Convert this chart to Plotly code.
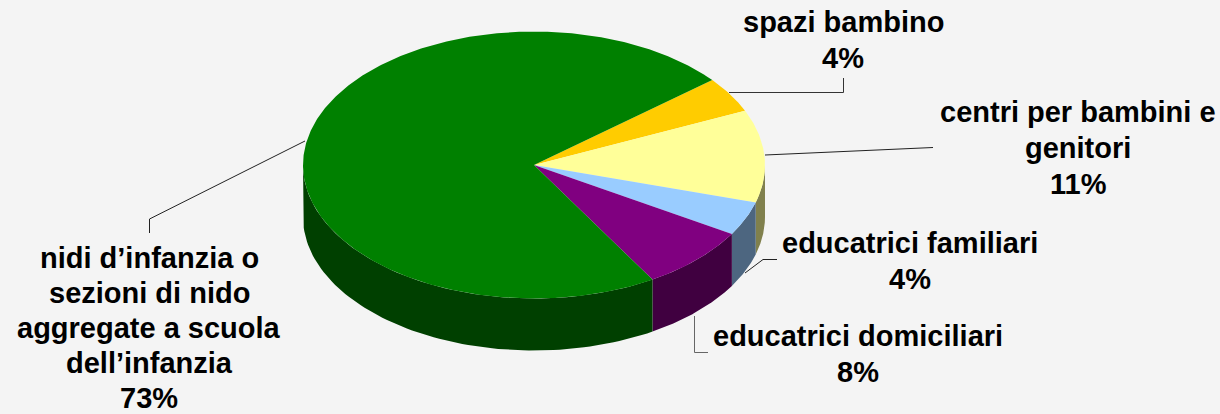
import numpy as np
import plotly.graph_objects as go

# Data, clockwise from the pie's start angle (labels show them rounded)
categories = ["spazi bambino", "centri per bambini e genitori", "educatrici familiari",
              "educatrici domiciliari", "nidi d’infanzia o sezioni di nido aggregate a scuola dell’infanzia"]
shares = [4.3, 11.2, 4.1, 7.8, 72.6]
label_lines = [["spazi bambino"], ["centri per bambini e", "genitori"], ["educatrici familiari"],
               ["educatrici domiciliari"], ["nidi d’infanzia o", "sezioni di nido", "aggregate a scuola", "dell’infanzia"]]

top_colors = ["#FFCC00", "#FFFF99", "#99CCFF", "#800080", "#008000"]
side_colors = ["#806600", "#80804D", "#4D6680", "#400040", "#004000"]

# Layout
CX, CY, RX, RY, DEPTH = 534, 165, 231, 133.5, 52
START = 39.5
FONT = "Liberation Sans, Arial, sans-serif"
FS = 29
label_pos = [(843, 22, 36), (1078, 112, 36), (910, 243, 36), (858, 336, 36), (149, 258, 35)]
leaders = [
    [(729, 92.5), (843.5, 92.5), (843.5, 78)],
    [(765, 155), (918, 147.5), (933, 147.5)],
    [(745, 273), (763, 259.5), (777, 259.5)],
    [(694.5, 316), (694.5, 352.5), (708, 352.5)],
    [(305, 141), (149.5, 219), (149.5, 233)],
]
leader_colors = ["#333333", "#222222", "#222222", "#666666", "#222222"]


def px(t):
    return CX + RX * np.cos(np.radians(t))


def py(t):
    return CY - RY * np.sin(np.radians(t))


fig = go.Figure()
edges = START - np.cumsum([0] + [s * 3.6 for s in shares])

# Side walls: only the front half of the rim (0 to -180 degrees)
for i, (a, b) in enumerate(zip(edges[:-1], edges[1:])):
    hi, lo = min(a, 0), max(b, -180)
    if hi <= lo:
        continue
    t = np.linspace(hi, lo, 80)
    xs = np.r_[px(t), px(t[::-1])]
    ys = np.r_[py(t), py(t[::-1]) + DEPTH]
    fig.add_trace(go.Scatter(x=xs, y=ys, mode="lines", fill="toself", fillcolor=side_colors[i],
                             line=dict(width=0), hoverinfo="skip", showlegend=False))

# Top faces
for i, (a, b) in enumerate(zip(edges[:-1], edges[1:])):
    t = np.linspace(a, b, max(int(a - b) * 2, 30))
    xs = np.r_[CX, px(t), CX]
    ys = np.r_[CY, py(t), CY]
    fig.add_trace(go.Scatter(x=xs, y=ys, mode="lines", fill="toself", fillcolor=top_colors[i],
                             line=dict(width=0), hoverinfo="text", text=categories[i], showlegend=False))

# Leader lines
for pts, c in zip(leaders, leader_colors):
    fig.add_trace(go.Scatter(x=[p[0] for p in pts], y=[p[1] for p in pts], mode="lines",
                             line=dict(color=c, width=1), hoverinfo="skip", showlegend=False))

# Labels
for lines, share, (x, y, step) in zip(label_lines, shares, label_pos):
    for k, text in enumerate(lines + [f"{round(share)}%"]):
        fig.add_annotation(x=x, y=y + k * step, text=f"<b>{text}</b>", showarrow=False,
                           xanchor="center", yanchor="middle",
                           font=dict(family=FONT, size=FS, color="black"))

fig.update_xaxes(range=[0, 1220], visible=False, fixedrange=True)
fig.update_yaxes(range=[414, 0], visible=False, fixedrange=True)
fig.update_layout(width=1220, height=414, margin=dict(l=0, r=0, t=0, b=0),
                  paper_bgcolor="#F4F4F4", plot_bgcolor="#F4F4F4", showlegend=False)
fig.write_html("out.html", config={"displayModeBar": False},
               post_script="document.body.style.margin='0';document.body.style.background='#F4F4F4';")
